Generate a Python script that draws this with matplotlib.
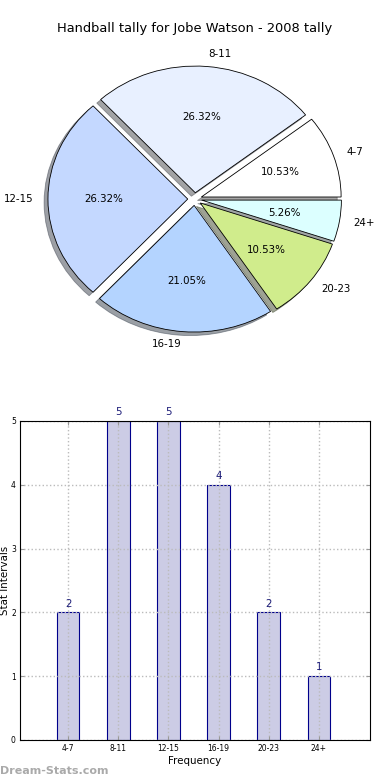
'''
Handball tally for Jobe Watson (2008): pie of intervals plus a bar chart
'''

import matplotlib
matplotlib.use('Agg')
import matplotlib.pyplot as plt
import numpy as np

categories = ['4-7', '8-11', '12-15', '16-19', '20-23', '24+']
counts = [2, 5, 5, 4, 2, 1]
pie_colors = ['#ffffff', '#e8f0ff', '#c4d8ff', '#b4d4ff', '#d0ec8c', '#dcffff']

fig = plt.figure(figsize=(3.9, 7.8), dpi=100)

# pie on top
ax1 = fig.add_axes([0.0513, 0.5418, 0.896, 0.406])
ax1.pie(counts, labels=categories, colors=pie_colors, autopct='%1.2f%%',
        explode=[0.05] * len(counts), shadow=True, startangle=0,
        wedgeprops=dict(edgecolor='black', linewidth=0.6),
        textprops=dict(fontsize=7.4, color='black'))
ax1.set_aspect('auto')
ax1.set_xlim(-1.25, 1.25)
ax1.set_ylim(-1.25, 1.25)
ax1.set_title('Handball tally for Jobe Watson - 2008 tally', fontsize=9.4, pad=6)

# bar chart below
ax2 = fig.add_axes([0.0513, 0.0513, 0.8974, 0.409])
x = np.arange(len(categories))
bars = ax2.bar(x, counts, width=0.45, color='#ccccE5', edgecolor='#00008b', linewidth=0.8, zorder=1)
for b, v in zip(bars, counts):
    ax2.text(b.get_x() + b.get_width() / 2, v + 0.06, str(v), ha='center', va='bottom',
             fontsize=7.4, color='#1c1c78')
ax2.set_xticks(x)
ax2.set_xticklabels(categories)
ax2.set_xlim(-0.96, 6.02)
ax2.set_ylim(0, 5)
ax2.set_yticks(range(6))
ax2.tick_params(labelsize=5.5, direction='in', top=True, right=True, length=3, color='#999999', pad=3)
ax2.grid(True, linestyle=':', color='#bbbbbb', linewidth=1)
ax2.set_axisbelow('line')   # grid over bars, under the frame
ax2.set_xlabel('Frequency', fontsize=7.4, labelpad=2)
ax2.set_ylabel('Stat Intervals', fontsize=7.4, labelpad=1)

fig.text(0.0, 0.0115, 'Dream-Stats.com', fontsize=8, color='#aaaaaa', fontweight='bold', ha='left', va='center')

fig.savefig('out.png', dpi=100)
